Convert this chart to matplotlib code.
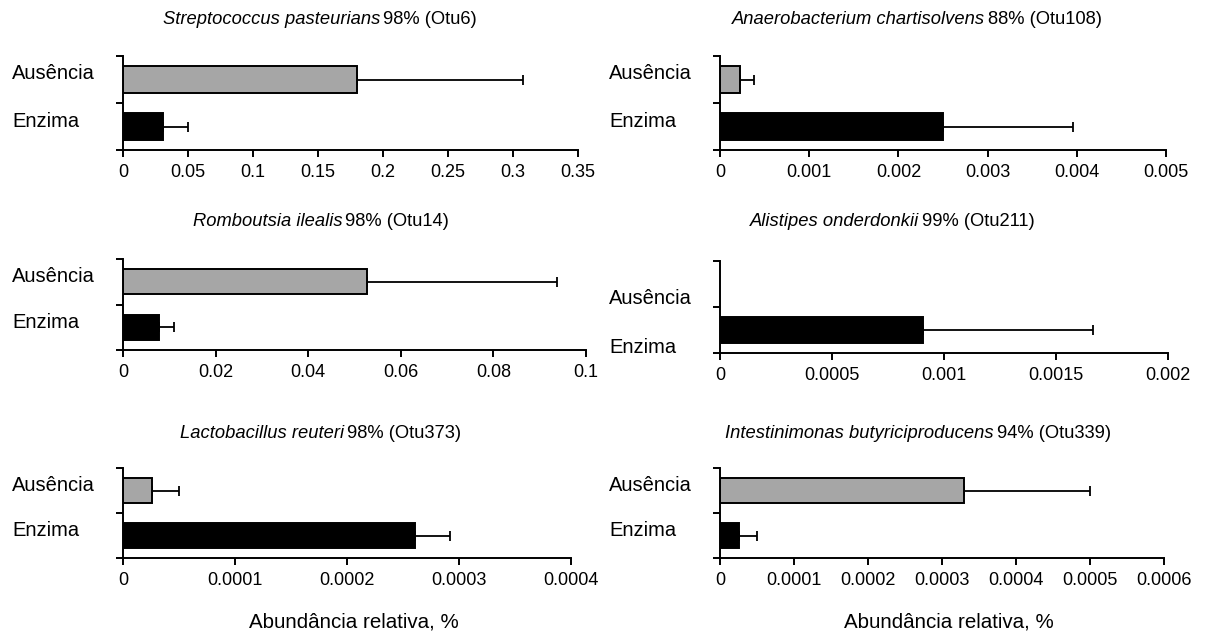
import matplotlib
matplotlib.use("Agg")
import matplotlib.pyplot as plt

plt.rcParams['font.family'] = ['Liberation Sans', 'DejaVu Sans']

categories = ["Ausência", "Enzima"]

species = ["Streptococcus pasteurians", "Anaerobacterium chartisolvens",
           "Romboutsia ilealis", "Alistipes onderdonkii",
           "Lactobacillus reuteri", "Intestinimonas butyriciproducens"]
identity = ["98% (Otu6)", "88% (Otu108)", "98% (Otu14)", "99% (Otu211)",
            "98% (Otu373)", "94% (Otu339)"]

# means: [Ausência, Enzima]
means_strep = [0.18, 0.0305]
errs_strep = [0.128, 0.0197]
means_anaero = [0.000227, 0.0025]
errs_anaero = [0.000149, 0.00146]
means_romb = [0.0526, 0.0077]
errs_romb = [0.0412, 0.0034]
means_alis = [0.0, 0.000906]
errs_alis = [0.0, 0.000757]
means_lacto = [0.0000255, 0.000261]
errs_lacto = [0.0000248, 0.000031]
means_intest = [0.00033, 0.0000254]
errs_intest = [0.00017, 0.000025]

ticks_strep = ["0", "0.05", "0.1", "0.15", "0.2", "0.25", "0.3", "0.35"]
ticks_anaero = ["0", "0.001", "0.002", "0.003", "0.004", "0.005"]
ticks_romb = ["0", "0.02", "0.04", "0.06", "0.08", "0.1"]
ticks_alis = ["0", "0.0005", "0.001", "0.0015", "0.002"]
ticks_lacto = ["0", "0.0001", "0.0002", "0.0003", "0.0004"]
ticks_intest = ["0", "0.0001", "0.0002", "0.0003", "0.0004", "0.0005", "0.0006"]

xlabel = "Abundância relativa, %"

panels = [
    (means_strep, errs_strep, ticks_strep),
    (means_anaero, errs_anaero, ticks_anaero),
    (means_romb, errs_romb, ticks_romb),
    (means_alis, errs_alis, ticks_alis),
    (means_lacto, errs_lacto, ticks_lacto),
    (means_intest, errs_intest, ticks_intest),
]

W, H = 1205, 635
fig = plt.figure(figsize=(W / 100, H / 100), dpi=100)

# layout in pixels: axes (left, right, top, bottom), title centre (x, y)
rects = [
    (123, 578, 56, 150), (720, 1166, 56, 150),
    (123, 586, 259, 350), (720, 1168, 261, 353),
    (123, 571, 468, 558), (720, 1164, 468, 558),
]
title_xy = [(320, 19), (917, 19), (321, 222), (892, 222), (321, 433), (918, 433)]
label_pos_default = [1.62, 0.6]
label_pos_alis = [1.19, 0.11]
colors = ["#a6a6a6", "#000000"]
ypos = [1.5, 0.5]

renderer = fig.canvas.get_renderer()

for i, ((means, errs, ticks), (l, r, t, b)) in enumerate(zip(panels, rects)):
    ax = fig.add_axes([l / W, 1 - b / H, (r - l) / W, (b - t) / H])
    for j in range(2):
        if means[j] > 0:
            ax.barh(ypos[j], means[j], height=0.56, color=colors[j],
                    edgecolor="black", linewidth=1.4, zorder=2)
            ax.errorbar(means[j], ypos[j], xerr=[[0], [errs[j]]], fmt="none",
                        ecolor="black", elinewidth=1.3, capsize=3.8,
                        capthick=1.3, zorder=1)
    tvals = [float(s) for s in ticks]
    ax.set_xlim(0, tvals[-1])
    ax.set_ylim(0, 2)
    ax.set_xticks(tvals)
    ax.set_xticklabels(ticks, fontsize=13)
    ax.set_yticks([0, 1, 2])
    ax.set_yticklabels([])
    ax.tick_params(axis="both", direction="out", length=5, width=1.4,
                   color="black")
    ax.tick_params(axis="x", pad=5)
    for s in ["top", "right"]:
        ax.spines[s].set_visible(False)
    for s in ["left", "bottom"]:
        ax.spines[s].set_linewidth(1.4)
    lp = label_pos_alis if i == 3 else label_pos_default
    for j in range(2):
        ax.annotate(categories[j], xy=(0, lp[j]),
                    xycoords=("axes fraction", "data"),
                    xytext=(-111 * 0.72, 0), textcoords="offset points",
                    ha="left", va="center", fontsize=14.5, annotation_clip=False)

    # title: italic species name followed by regular text, centred as a whole
    cx, cy = title_xy[i]
    t1 = fig.text(0, 1 - cy / H, species[i], style="italic", fontsize=13.2,
                  ha="left", va="center")
    t2 = fig.text(0, 1 - cy / H, identity[i], fontsize=13.2,
                  ha="left", va="center")
    w1 = t1.get_window_extent(renderer).width
    w2 = t2.get_window_extent(renderer).width
    gap = 3
    x0 = cx - (w1 + gap + w2) / 2
    t1.set_x(x0 / W)
    t2.set_x((x0 + w1 + gap) / W)

for (l, r, t, b) in [rects[4], rects[5]]:
    fig.text(((l + r) / 2 + 7) / W, 1 - 622 / H, xlabel, ha="center",
             va="center", fontsize=14.8)

fig.savefig("out.png", dpi=100)
